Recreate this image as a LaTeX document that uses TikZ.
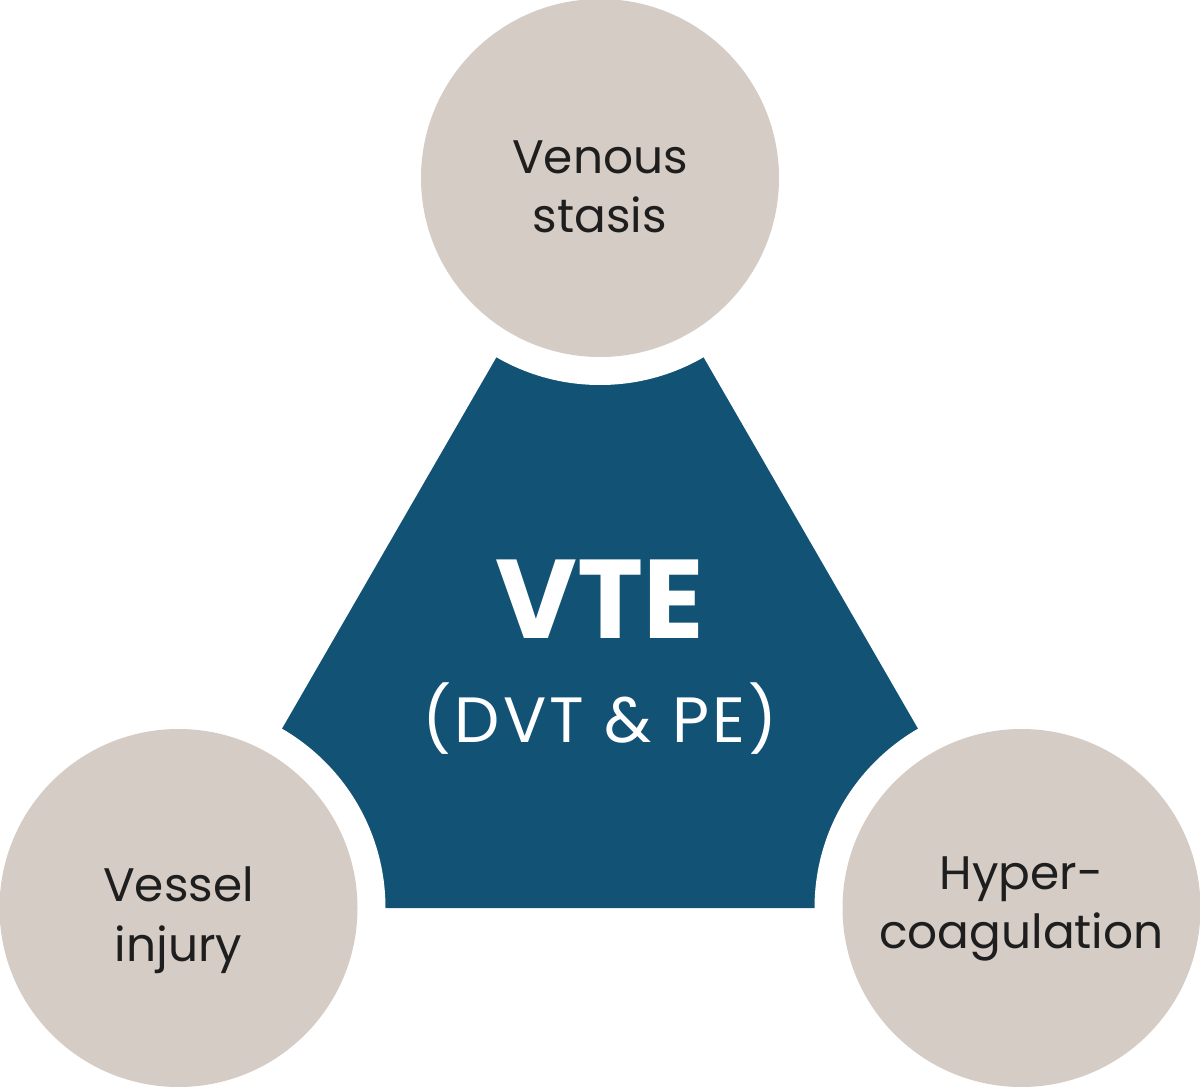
\documentclass[tikz,border=0pt]{standalone}
\usepackage{fontspec}
\setmainfont{Poppins}
\newfontfamily\spacedfont[LetterSpace=5]{Poppins}
\usetikzlibrary{positioning}
\usetikzlibrary{backgrounds}
\definecolor{vteblue}{HTML}{115275}
\definecolor{causegray}{HTML}{D5CCC6}
\definecolor{labelink}{HTML}{1E1E1E}
\tikzset {
  node distance={730pt and 421.5pt},
  % the three risk factor circles
  cause/.style = {circle, fill=causegray, minimum size=358pt, inner sep=0pt},
  % their two-line labels
  causetext/.style = {inner sep=0pt, align=center, text=labelink,
    font=\fontsize{47}{59.5}\selectfont},
  % white ring round each circle
  gap/.style = {fill=white},
  % the central shape
  vte/.style = {fill=vteblue},
  vtetext/.style = {text=white, inner sep=0pt, anchor=base},
}

\begin{document}
\begin{tikzpicture}[x=1pt, y=-1pt]
        \useasboundingbox (0,0) rectangle (1200,1087);

        \node[cause] (stasis) at (600,178) {};
        \node[cause, on grid] (injury) [below left=of stasis] {};
        \node[cause, on grid] (hyper) [below right=of stasis] {};

        \node[causetext, yshift=-9pt] (stasistext) at (stasis) {Venous\\stasis};
        \node[causetext, yshift=-12pt] (injurytext) at (injury) {Vessel\\injury};
        \node[causetext, yshift=-1pt] (hypertext) at (hyper) {Hyper-\\coagulation};

        \node[vtetext, font=\fontsize{112}{112}\selectfont\bfseries] (vtename) at (600,638) {VTE};
        \node[vtetext, font=\fontsize{64}{64}\spacedfont] (vtesub) at (600,742) {(DVT \& PE)};

        \begin{scope}[on background layer]
          \fill[vte] (stasis.center) -- (injury.center) -- (hyper.center) -- cycle;
          \fill[gap] (stasis.center) circle[radius=207pt];
          \fill[gap] (injury.center) circle[radius=207pt];
          \fill[gap] (hyper.center) circle[radius=207pt];
        \end{scope}
      \end{tikzpicture}
\end{document}
